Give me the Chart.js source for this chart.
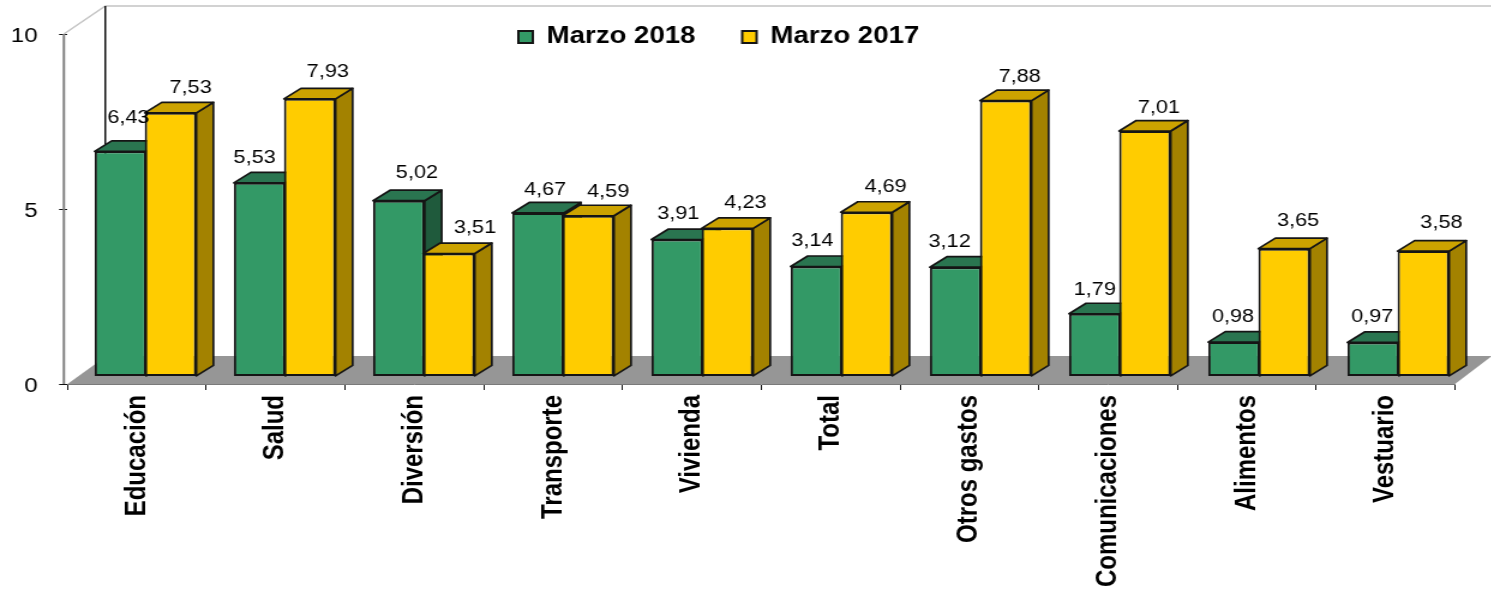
<!DOCTYPE html>
<html><head><meta charset="utf-8">
<style>html,body{margin:0;padding:0;background:#fff;overflow:hidden;width:1491px;height:590px}
canvas{position:absolute;left:0;top:0;transform-origin:0 0;transform:scaleX(1.2)}</style>
<script src="https://cdn.jsdelivr.net/npm/chart.js@4"></script>
</head><body>
<canvas id="c" width="1243" height="590"></canvas>
<script>
const categories=['Educación','Salud','Diversión','Transporte','Vivienda','Total','Otros gastos','Comunicaciones','Alimentos','Vestuario'];
const marzo2018=[6.43,5.53,5.02,4.67,3.91,3.14,3.12,1.79,0.98,0.97];
const marzo2017=[7.53,7.93,3.51,4.59,4.23,4.69,7.88,7.01,3.65,3.58];
const seriesNames=['Marzo 2018','Marzo 2017'];
const yTicks=[0,5,10];
// label nudges relative to the bar's top centre (screen px)
const nudge2018=[[8,-33],[-5,-25],[18,-28],[7,-23],[1,-26],[-4,-25],[-6,-25],[0,-24],[-1,-25],[-1,-25]];
const nudge2017=[[20,-25],[18,-27],[26,-26],[20,-24],[18,-25],[19,-25],[14,-24],[14,-23],[14,-28],[18,-28]];

const K=1.2;                 // horizontal stretch of the canvas
const W=1243,H=590;
const L=67.5/K,R=1455/K;     // plot extents
const TOP=34,BOTTOM=384;
const wallDX=39/K,wallDY=-28;
const barDX=17/K,barDY=-10.5;
const shiftY=-7.6;
const sx=116/((R-L)/10),ex=145.5/K-sx*(L+(R-L)/20);

const colors=[
 {front:'#339966',top:'#2A7550',side:'#1F5A3C'},
 {front:'#FFCC00',top:'#CCA300',side:'#A38200'}
];
const nudges=[nudge2018,nudge2017];

const threeD={
 id:'threeD',
 beforeLayout(chart){
  const lg=chart.legend;
  if(!lg.__patched){
   const fit=lg.fit.bind(lg);
   lg.fit=function(){fit();this.height=0;};
   lg.__patched=true;
  }
 },
 afterLayout(chart){
  const lg=chart.legend;
  lg.left=433-40; lg.right=W; lg.top=26.5-40; lg.bottom=70;
 },
 beforeDatasetsDraw(chart){
  const ctx=chart.ctx,{left,right,top,bottom}=chart.chartArea;
  ctx.save();
  // floor
  ctx.fillStyle='#969696';
  ctx.beginPath();
  ctx.moveTo(left,bottom);ctx.lineTo(right,bottom);
  ctx.lineTo(right+wallDX*0.95,bottom+wallDY);ctx.lineTo(left+wallDX,bottom+wallDY);
  ctx.closePath();ctx.fill();
  // walls
  ctx.strokeStyle='#808080';ctx.lineWidth=2;
  ctx.beginPath();ctx.moveTo(left-3,bottom);ctx.lineTo(left-3,top);ctx.stroke();
  ctx.strokeStyle='#c4c4c4';ctx.lineWidth=1.5;
  ctx.beginPath();ctx.moveTo(left-3,top);ctx.lineTo(left+wallDX-1,top+wallDY);ctx.lineTo(W,top+wallDY);ctx.stroke();
  ctx.strokeStyle='#111';ctx.lineWidth=1.5;
  ctx.beginPath();ctx.moveTo(left+wallDX-1,top+wallDY);ctx.lineTo(left+wallDX-1,bottom+wallDY);ctx.stroke();
  // bars
  ctx.transform(sx,0,0,1,ex,shiftY);
  [0,1].forEach(d=>{
   const meta=chart.getDatasetMeta(d),c=colors[d];
   meta.data.forEach(b=>{
    const x0=b.x-b.width/2,x1=b.x+b.width/2,y=b.y,base=b.base;
    ctx.strokeStyle='#151515';ctx.lineWidth=1.7;ctx.lineJoin='round';
    ctx.fillStyle=c.side;
    ctx.beginPath();ctx.moveTo(x1,y);ctx.lineTo(x1+barDX,y+barDY);ctx.lineTo(x1+barDX,base+barDY);ctx.lineTo(x1,base);ctx.closePath();ctx.fill();ctx.stroke();
    ctx.fillStyle=c.top;
    ctx.beginPath();ctx.moveTo(x0,y);ctx.lineTo(x0+barDX,y+barDY);ctx.lineTo(x1+barDX,y+barDY);ctx.lineTo(x1,y);ctx.closePath();ctx.fill();ctx.stroke();
   });
   meta.controller.draw();
  });
  // value labels
  ctx.fillStyle='#000';ctx.font='18px "Liberation Sans"';ctx.textAlign='center';ctx.textBaseline='middle';
  [0,1].forEach(d=>{
   const meta=chart.getDatasetMeta(d),vals=chart.data.datasets[d].data;
   meta.data.forEach((b,i)=>{
    ctx.fillText(vals[i].toFixed(2).replace('.',','),b.x+nudges[d][i][0]/K,b.y+nudges[d][i][1]);
   });
  });
  ctx.restore();
  return false;
 }
};

new Chart(document.getElementById('c'),{
 type:'bar',
 data:{labels:categories,datasets:[
  {label:seriesNames[0],data:marzo2018,backgroundColor:colors[0].front,borderColor:'#151515',borderWidth:2,borderSkipped:false},
  {label:seriesNames[1],data:marzo2017,backgroundColor:colors[1].front,borderColor:'#151515',borderWidth:2,borderSkipped:false}
 ]},
 plugins:[threeD],
 options:{
  responsive:false,animation:false,devicePixelRatio:1,
  layout:{padding:{top:TOP,right:W-R,left:0,bottom:0}},
  datasets:{bar:{categoryPercentage:0.72,barPercentage:1.03}},
  plugins:{
   tooltip:{enabled:false},
   legend:{display:true,position:'top',align:'start',
    labels:{font:{family:'"Liberation Sans"',size:23,weight:'bold'},color:'#000',boxWidth:12,boxHeight:12,padding:39}}
  },
  scales:{
   x:{
    afterFit(s){s.height=H-BOTTOM;},
    border:{display:true,color:'#7a7a7a',width:1},
    grid:{display:true,drawOnChartArea:false,drawTicks:true,tickLength:6,color:'#111',offset:true},
    ticks:{autoSkip:false,minRotation:90,maxRotation:90,padding:5,color:'#000',
     font:{family:'"Liberation Sans"',size:24,weight:'bold'}}
   },
   y:{
    min:0,max:10,
    afterBuildTicks(s){s.ticks=yTicks.map(v=>({value:v}));},
    afterFit(s){s.width=L;},
    border:{display:false},
    grid:{display:true,drawOnChartArea:false,drawTicks:true,tickLength:7,color:'#111'},
    ticks:{padding:18,labelOffset:2,color:'#000',font:{family:'"Liberation Sans"',size:20}}
   }
  }
 }
});
</script>
</body></html>
